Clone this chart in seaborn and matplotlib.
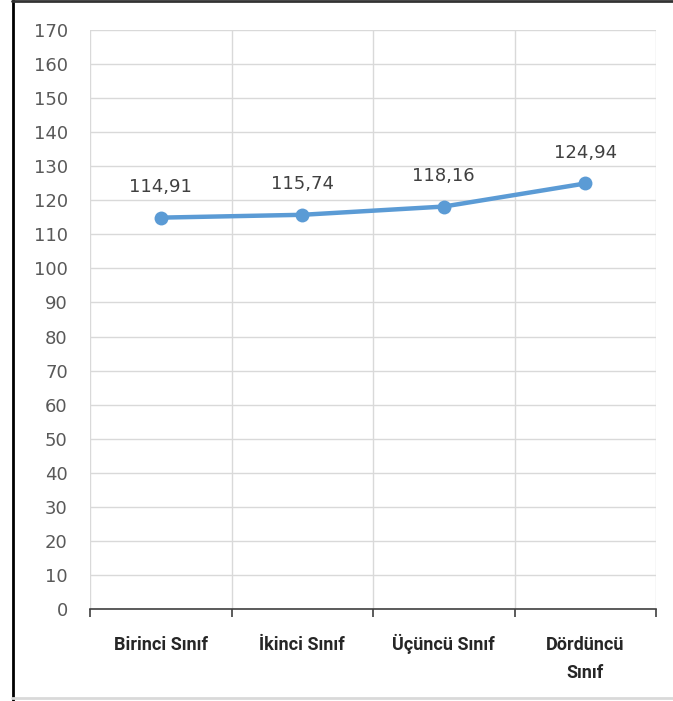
import matplotlib
matplotlib.use("Agg")
import matplotlib.pyplot as plt
from matplotlib.lines import Line2D
import seaborn as sns
import pandas as pd

categories = ["Birinci Sınıf", "İkinci Sınıf", "Üçüncü Sınıf", "Dördüncü\nSınıf"]
values = [114.91, 115.74, 118.16, 124.94]
labels = ["114,91", "115,74", "118,16", "124,94"]
yticks = list(range(0, 171, 10))

sns.set_style("white")
plt.rcParams['font.family'] = ['DejaVu Sans']

df = pd.DataFrame({"sinif": categories, "deger": values})

fig = plt.figure(figsize=(6.73, 7.01), dpi=100)
ax = fig.add_axes([90 / 673, 92 / 701, 566 / 673, 579 / 701])

sns.lineplot(data=df, x="sinif", y="deger", ax=ax, color="#5B9BD5",
             linewidth=3.2, marker="o", markersize=10, markeredgewidth=0,
             sort=False, zorder=3)

for i, (v, t) in enumerate(zip(values, labels)):
    ax.annotate(t, (i, v), xytext=(0, 22), textcoords="offset points",
                ha="center", va="center", fontsize=13, color="#404040")

ax.set_xlim(-0.5, len(categories) - 0.5)
ax.set_ylim(0, 170)
ax.set_yticks(yticks)
ax.set_yticklabels([str(y) for y in yticks], fontsize=13, color="#595959")
ax.tick_params(axis="y", length=0, pad=16)

# category gridlines at boundaries
for b in [i - 0.5 for i in range(len(categories) + 1)]:
    ax.axvline(b, color="#D9D9D9", linewidth=1, zorder=0)
ax.yaxis.grid(True, color="#D9D9D9", linewidth=1)
ax.set_axisbelow(True)

# category labels, every line on a common baseline
ax.set_xticks(range(len(categories)))
ax.set_xticklabels([])
ax.tick_params(axis="x", which="major", length=0)
for i, cat in enumerate(categories):
    for j, line in enumerate(cat.split("\n")):
        ax.annotate(line, xy=(i, 0), xycoords=ax.get_xaxis_transform(),
                    xytext=(0, -(29.5 + j * 20)), textcoords="offset points",
                    ha="center", va="baseline", fontsize=13, fontweight="bold",
                    color="#262626", family=['Roboto', 'DejaVu Sans'],
                    annotation_clip=False)
ax.set_xticks([i - 0.5 for i in range(len(categories) + 1)], minor=True)
ax.tick_params(axis="x", which="minor", bottom=True, length=6, width=1.2,
               color="#404040", direction="out")

for s in ["left", "right", "top"]:
    ax.spines[s].set_visible(False)
ax.spines["bottom"].set_color("#404040")
ax.spines["bottom"].set_linewidth(1.2)
ax.set_xlabel("")
ax.set_ylabel("")

# frame around the picture
fig.add_artist(Line2D([12.5 / 673, 12.5 / 673], [0, 1], color="black", linewidth=2))
fig.add_artist(Line2D([12 / 673, 1], [700 / 701, 700 / 701], color="#333333", linewidth=2))
fig.add_artist(Line2D([12 / 673, 1], [3 / 701, 3 / 701], color="#D9D9D9", linewidth=2))

fig.savefig("out.png", dpi=100)
